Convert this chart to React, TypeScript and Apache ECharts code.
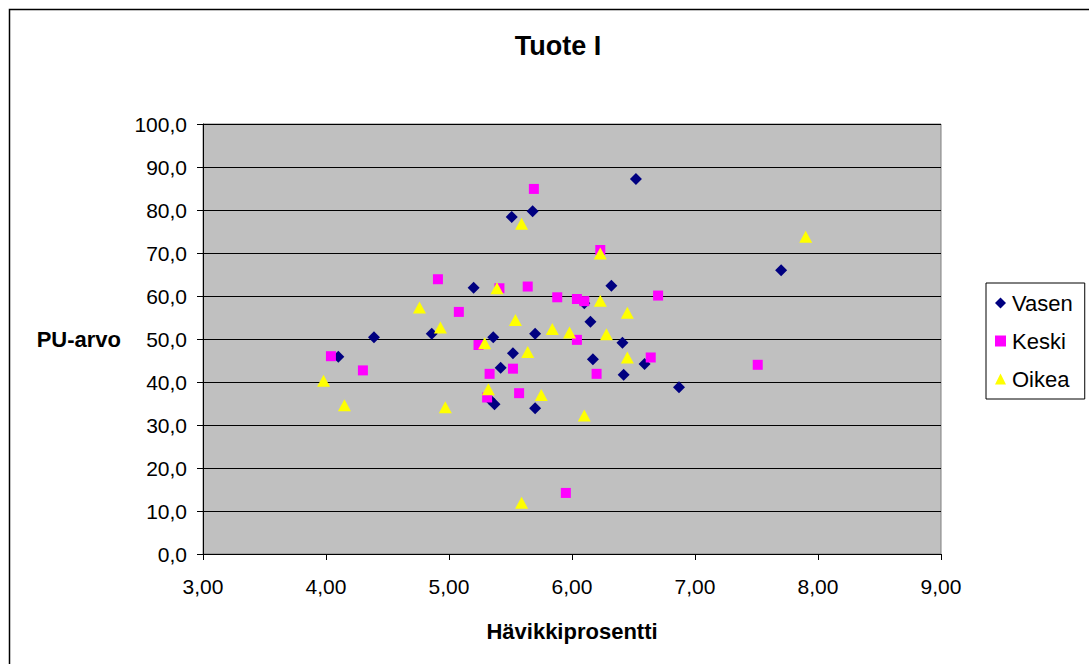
import React, { useEffect, useRef } from "react";
import * as echarts from "echarts";

// Hävikkiprosentti (x) and PU-arvo (y) pairs for each measuring position
const vasen: [number, number][] = [
  [5.51, 78.4], [5.68, 79.7], [6.52, 87.2], [5.2, 61.9], [6.32, 62.4],
  [6.1, 58.3], [7.7, 66.0], [4.39, 50.4], [4.86, 51.2], [5.36, 50.4],
  [5.7, 51.2], [6.15, 54.0], [6.41, 49.1], [5.52, 46.7], [4.1, 45.9],
  [6.17, 45.3], [6.59, 44.2], [5.42, 43.3], [6.42, 41.7], [6.87, 38.8],
  [5.33, 36.0], [5.37, 34.8], [5.7, 33.9],
];

const keski: [number, number][] = [
  [5.69, 84.9], [6.23, 70.7], [4.91, 63.9], [5.41, 61.8], [5.64, 62.2],
  [5.08, 56.3], [5.88, 59.7], [6.04, 59.3], [6.1, 58.8], [6.7, 60.1],
  [5.24, 48.6], [6.04, 49.8], [4.04, 46.0], [6.64, 45.7], [7.51, 44.0],
  [4.3, 42.7], [5.52, 43.1], [5.33, 41.9], [6.2, 41.9], [5.57, 37.4],
  [5.31, 36.4], [5.95, 14.2],
];

const oikea: [number, number][] = [
  [5.59, 76.8], [7.9, 73.8], [6.23, 69.9], [5.39, 61.8], [4.76, 57.3],
  [6.23, 58.9], [6.45, 56.1], [5.54, 54.4], [4.93, 52.7], [5.84, 52.3],
  [5.98, 51.5], [6.28, 51.1], [5.29, 49.0], [5.64, 47.0], [6.45, 45.7],
  [3.98, 40.3], [5.32, 38.3], [5.75, 37.0], [4.15, 34.6], [4.97, 34.1],
  [6.1, 32.2], [5.59, 11.9],
];

const seriesNames = ["Vasen", "Keski", "Oikea"];
const chartTitle = "Tuote I";
const xName = "Hävikkiprosentti";
const yName = "PU-arvo";

const FONT = "'Liberation Sans', Arial, sans-serif";

const fmt = (v: number, d: number) => v.toFixed(d).replace(".", ",");

export default function App() {
  const ref = useRef<HTMLDivElement>(null);

  useEffect(() => {
    if (!ref.current) return;
    const chart = echarts.init(ref.current, undefined, { renderer: "svg" });
    chart.setOption({
      animation: false,
      backgroundColor: "#ffffff",
      textStyle: { fontFamily: FONT },
      title: {
        text: chartTitle,
        left: 553,
        top: 27,
        textAlign: "center",
        textStyle: { fontFamily: FONT, fontSize: 27, fontWeight: "bold", color: "#000" },
      },
      graphic: [
        {
          type: "rect",
          shape: { x: 9.5, y: 9.5, width: 1100, height: 700 },
          style: { fill: "none", stroke: "#000", lineWidth: 1.5 },
          silent: true,
          z: -1,
        },
      ],
      legend: {
        orient: "vertical",
        left: 986,
        top: 283,
        data: seriesNames,
        backgroundColor: "#fff",
        borderColor: "#000",
        borderWidth: 1,
        padding: [9, 12, 9, 9],
        itemGap: 16,
        itemWidth: 11,
        itemHeight: 11,
        textStyle: { fontFamily: FONT, fontSize: 22, color: "#000", padding: [0, 0, 0, 1] },
      },
      grid: {
        left: 203,
        top: 124,
        width: 738,
        height: 430,
        show: true,
        backgroundColor: "#C0C0C0",
        borderColor: "#808080",
        borderWidth: 1,
      },
      xAxis: {
        type: "value",
        min: 3,
        max: 9,
        interval: 1,
        name: xName,
        nameLocation: "middle",
        nameGap: 66,
        nameTextStyle: { fontFamily: FONT, fontSize: 22, fontWeight: "bold", color: "#000", verticalAlign: "top" },
        axisLine: { show: true, onZero: false, lineStyle: { color: "#000", width: 1 } },
        axisTick: { show: true, inside: false, length: 6, lineStyle: { color: "#000" } },
        axisLabel: {
          formatter: (v: number) => fmt(v, 2),
          fontFamily: FONT,
          fontSize: 21,
          color: "#000",
          margin: 22,
        },
        splitLine: { show: false },
      },
      yAxis: {
        type: "value",
        min: 0,
        max: 100,
        interval: 10,
        name: yName,
        nameLocation: "middle",
        nameRotate: 0,
        nameGap: 82,
        nameTextStyle: { fontFamily: FONT, fontSize: 22, fontWeight: "bold", color: "#000", align: "right", verticalAlign: "middle" },
        axisLine: { show: true, onZero: false, lineStyle: { color: "#000", width: 1 } },
        axisTick: { show: true, inside: false, length: 6, lineStyle: { color: "#000" } },
        axisLabel: {
          formatter: (v: number) => fmt(v, 1),
          fontFamily: FONT,
          fontSize: 21,
          color: "#000",
          margin: 16,
        },
        splitLine: { show: true, lineStyle: { color: "#000", width: 1 } },
      },
      series: [
        {
          name: seriesNames[0],
          type: "scatter",
          symbol: "diamond",
          symbolSize: [12, 12],
          itemStyle: { color: "#000080", opacity: 1 },
          data: vasen,
          z: 3,
        },
        {
          name: seriesNames[1],
          type: "scatter",
          symbol: "rect",
          symbolSize: [10, 10],
          itemStyle: { color: "#FF00FF", opacity: 1 },
          data: keski,
          z: 4,
        },
        {
          name: seriesNames[2],
          type: "scatter",
          symbol: "triangle",
          symbolSize: [13, 12],
          itemStyle: { color: "#FFFF00", opacity: 1 },
          data: oikea,
          z: 5,
        },
      ],
    });
    return () => chart.dispose();
  }, []);

  return (
    <div
      ref={ref}
      style={{ position: "fixed", left: 0, top: 0, width: 1089, height: 664 }}
    />
  );
}
